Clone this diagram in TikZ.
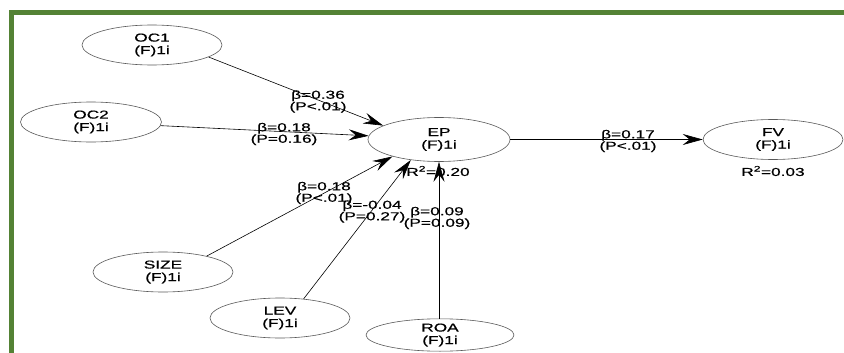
\documentclass[tikz,border=0pt]{standalone}
\usepackage{fontspec}
\setmainfont{Liberation Sans}[FakeStretch=1.5,FakeBold=0.7]
\usetikzlibrary{shapes.geometric,arrows.meta}
\definecolor{bordergreen}{RGB}{84,130,53}
\begin{document}
\begin{tikzpicture}[x=1pt,y=-1pt,
  lv/.style={ellipse,draw=black!65,line width=0.6pt,minimum width=140pt,minimum height=40pt,inner sep=0pt,align=center,font=\fontsize{11.5}{12.5}\selectfont},
  lab/.style={align=center,inner sep=0pt,font=\fontsize{11.5}{11.5}\selectfont},
  path/.style={draw=black,line width=0.6pt,-{Stealth[length=20pt,width=11pt,inset=7pt]}}]
\useasboundingbox (0,0) rectangle (844,353);
\fill[white] (0,0) rectangle (844,353);
\fill[bordergreen] (9,10) rectangle (844,15);
\fill[bordergreen] (9,10) rectangle (14,353);
\begin{scope}
\clip (14,15) rectangle (844,353);
\node[lv] (OC1) at (152,45) {OC1\\(F)1i};
\node[lv,minimum width=141pt] (OC2) at (91,122) {OC2\\(F)1i};
\node[lv,minimum width=142pt,minimum height=44pt] (EP) at (439,139.5) {EP\\(F)1i};
\node[lv] (FV) at (773,139.5) {FV\\(F)1i};
\node[lv] (SIZE) at (163,272) {SIZE\\(F)1i};
\node[lv] (LEV) at (280,318) {LEV\\(F)1i};
\node[lv,minimum width=148pt,minimum height=32pt] (ROA) at (440,335) {ROA\\(F)1i};
\draw[path] (OC1.-12) -- (EP.166);
\draw[path] (OC2.-3) -- (EP.177);
\draw[path] (SIZE.20) -- (EP.200);
\draw[path] (LEV.39) -- (EP.216);
\draw[path] (ROA.north -| EP.south) -- (EP.south);
\draw[path] (EP.east) -- (FV.west);
\node[lab] (l1) at (318,101.5) {β=0.36\\(P<.01)};
\node[lab] (l2) at (284,134) {β=0.18\\(P=0.16)};
\node[lab] (l3) at (628,141) {β=0.17\\(P<.01)};
\node[lab] (l4) at (324,193) {β=0.18\\(P<.01)};
\node[lab] (l5) at (372,211.5) {β=-0.04\\(P=0.27)};
\node[lab] (l6) at (437,218) {β=0.09\\(P=0.09)};
\node[lab] (r1) at (438,171) {R\textsuperscript{2}=0.20};
\node[lab] (r2) at (773,171) {R\textsuperscript{2}=0.03};
\end{scope}
\end{tikzpicture}
\end{document}
